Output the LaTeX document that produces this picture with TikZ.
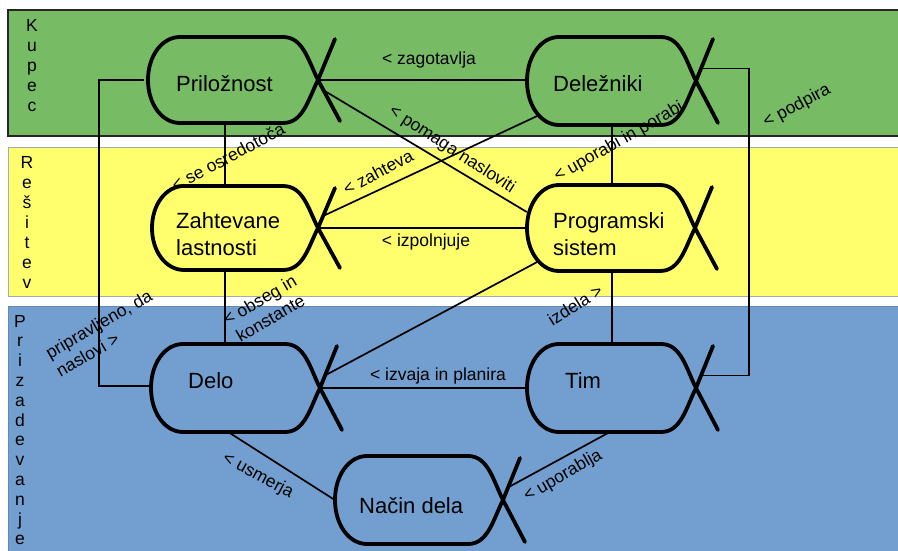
\documentclass[tikz,border=0pt]{standalone}
\usepackage{fontspec}
\setmainfont{Liberation Sans}
\usetikzlibrary{calc}

\definecolor{kupecfill}{HTML}{77BC65}
\definecolor{resfill}{HTML}{FFFF6D}
\definecolor{prizfill}{HTML}{729FCF}
\definecolor{resborder}{HTML}{A3ABB3}
\definecolor{prizborder}{HTML}{6189B8}

\tikzset{
  alphabox/.style={shape=rectangle, draw=none, inner sep=0pt},
  alphaline/.style={line width=3.8pt, draw=black, line join=round, line cap=round},
  alphatext/.style={inner sep=0pt, font=\fontsize{22}{27}\selectfont},
  conn/.style={line width=1.7pt, draw=black},
  lbl/.style={inner sep=0pt, font=\fontsize{17.5}{21}\selectfont},
  bandletter/.style={inner sep=0pt, font=\fontsize{17.5}{20}\selectfont},
}

% Essence alpha: stadium with a fish-tail cross at its right tip.
% #1 name, #2 left x, #3 tip x, #4 centre y, #5 half height, #6 fill
\newcommand{\essalpha}[6]{%
  \node[alphabox, minimum width={#3-#2}, minimum height={2*#5}] (#1) at ({(#2+#3)/2},#4) {};
  \draw[alphaline, fill=#6]
    ({#3-35},{#4-#5}) .. controls ({#3-15},{#4-#5}) and ({#3-10},{#4-20}) .. ({#3},{#4})
    .. controls ({#3-10},{#4+20}) and ({#3-15},{#4+#5}) .. ({#3-35},{#4+#5})
    -- ({#2+32},{#4+#5}) .. controls ({#2+14},{#4+#5}) and ({#2},{#4+0.56*#5}) .. ({#2},{#4})
    .. controls ({#2},{#4-0.56*#5}) and ({#2+14},{#4-#5}) .. ({#2+32},{#4-#5}) -- cycle;
  \draw[alphaline] ({#3+17},{#4-#5+2}) -- ({#3},{#4}) -- ({#3+22},{#4+#5-2});
  \coordinate (#1-ut) at ({#3+0.3*17},{#4-0.3*(#5-2)});
  \coordinate (#1-lt) at ({#3+0.25*22},{#4+0.25*(#5-2)});
}

\begin{document}
\begin{tikzpicture}[x=1pt, y=-1pt]
\useasboundingbox (0,0) rectangle (898,551);
\fill[white] (0,0) rectangle (898,551);

\begin{scope}
\clip (0,0) rectangle (898,551);
% swimlanes
\draw[line width=1.6pt, draw=black!85, fill=kupecfill] (8,10) rectangle (920,136);
\draw[line width=1pt, draw=resborder, fill=resfill] (8,147) rectangle (920,296);
\draw[line width=1pt, draw=prizborder, fill=prizfill] (8,306) rectangle (920,570);

\foreach \ch [count=\i from 0] in {K,u,p,e,c}
  \node[bandletter, anchor=base] (kupec-\i) at (32,{32+19.75*\i}) {\ch};
\foreach \ch [count=\i from 0] in {R,e,š,i,t,e,v}
  \node[bandletter, anchor=base] (resitev-\i) at (27,{168+20*\i}) {\ch};
\foreach \ch [count=\i from 0] in {P,r,i,z,a,d,e,v,a,n,j,e}
  \node[bandletter, anchor=base] (prizadevanje-\i) at (20,{327+19.8*\i}) {\ch};

% guide columns for the orthogonal connectors
\coordinate (colL) at (225,0);
\coordinate (colR) at (612,0);
\coordinate (busL) at (99,0);
\coordinate (busR) at (749,0);

% alphas
\essalpha{pr}{148}{318}{80}{43}{kupecfill}
\essalpha{de}{527}{696}{81}{44}{kupecfill}
\essalpha{za}{152}{318}{228}{42}{resfill}
\essalpha{ps}{527}{695}{228}{43}{resfill}
\essalpha{dl}{151}{320}{388}{44}{prizfill}
\essalpha{tm}{527}{696}{388}{44}{prizfill}
\essalpha{nd}{335}{503}{500}{44}{prizfill}

% connectors
\draw[conn] (pr.east) -- (pr.east -| de.west);
\draw[conn] (pr-lt) -- ($(ps.west)+(0,-16)$);
\draw[conn] ($(de.south west)+(10,-9)$) -- (za-ut);
\draw[conn] (pr.south -| colL) -- (za.north -| colL);
\draw[conn] (za.east) -- (ps.west);
\draw[conn] (de.south -| colR) -- (ps.north -| colR);
\draw[conn] (de-ut) -- (de-ut -| busR) -- (tm-ut -| busR) -- (tm-ut);
\draw[conn] (za.south -| colL) -- (dl.north -| colL);
\draw[conn] ($(pr.west)+(-4,0)$) -- (pr.west -| busL) -- ($(dl.west -| busL)+(0,-2)$) -- ($(dl.west)+(0,-2)$);
\draw[conn] ($(ps.south west)+(10,-9)$) -- (dl-ut);
\draw[conn] (ps.south -| colR) -- (tm.north -| colR);
\draw[conn] (dl.east) -- (tm.west);
\draw[conn] ($(dl.south)+(-7,0)$) -- (nd.west);
\draw[conn] ($(tm.south)+(-2,0)$) -- (nd-ut);

% alpha names
\node[alphatext, anchor=base west] (pr-t) at (176,92) {Priložnost};
\node[alphatext, anchor=base west] (de-t) at (553,92) {Deležniki};
\node[alphatext, anchor=base west] (za-t) at (176,228) {\begin{tabular}[t]{@{}l@{}}Zahtevane\\lastnosti\end{tabular}};
\node[alphatext, anchor=base west] (ps-t) at (553,228) {\begin{tabular}[t]{@{}l@{}}Programski\\sistem\end{tabular}};
\node[alphatext, anchor=base west] (dl-t) at (188,388) {Delo};
\node[alphatext, anchor=base west] (tm-t) at (565,388) {Tim};
\node[alphatext, anchor=base west] (nd-t) at (359,513) {Način dela};

% relation labels
\node[lbl, anchor=base] (l-zag) at (429,65) {< zagotavlja};
\node[lbl, anchor=base] (l-izp) at (426,246) {< izpolnjuje};
\node[lbl, anchor=base] (l-izv) at (438,380) {< izvaja in planira};
\node[lbl, rotate=-33] (l-pom) at (452,150) {< pomaga nasloviti};
\node[lbl, rotate=28] (l-zah) at (378,172) {< zahteva};
\node[lbl, rotate=28] (l-osr) at (228,157) {< se osredotoča};
\node[lbl, rotate=29.5] (l-upo) at (619,142) {< uporabi in porabi};
\node[lbl, rotate=28] (l-pod) at (797,106) {< podpira};
\node[lbl, rotate=30, align=center] (l-obs) at (265,309) {< obseg in\\konstante};
\node[lbl, rotate=30, align=left] (l-pri) at (104,333) {pripravljeno, da\\naslovi >};
\node[lbl, rotate=32] (l-izd) at (575,305) {izdela >};
\node[lbl, rotate=-28] (l-usm) at (258,476) {< usmerja};
\node[lbl, rotate=30] (l-upb) at (563,476) {< uporablja};
\end{scope}
\end{tikzpicture}
\end{document}
